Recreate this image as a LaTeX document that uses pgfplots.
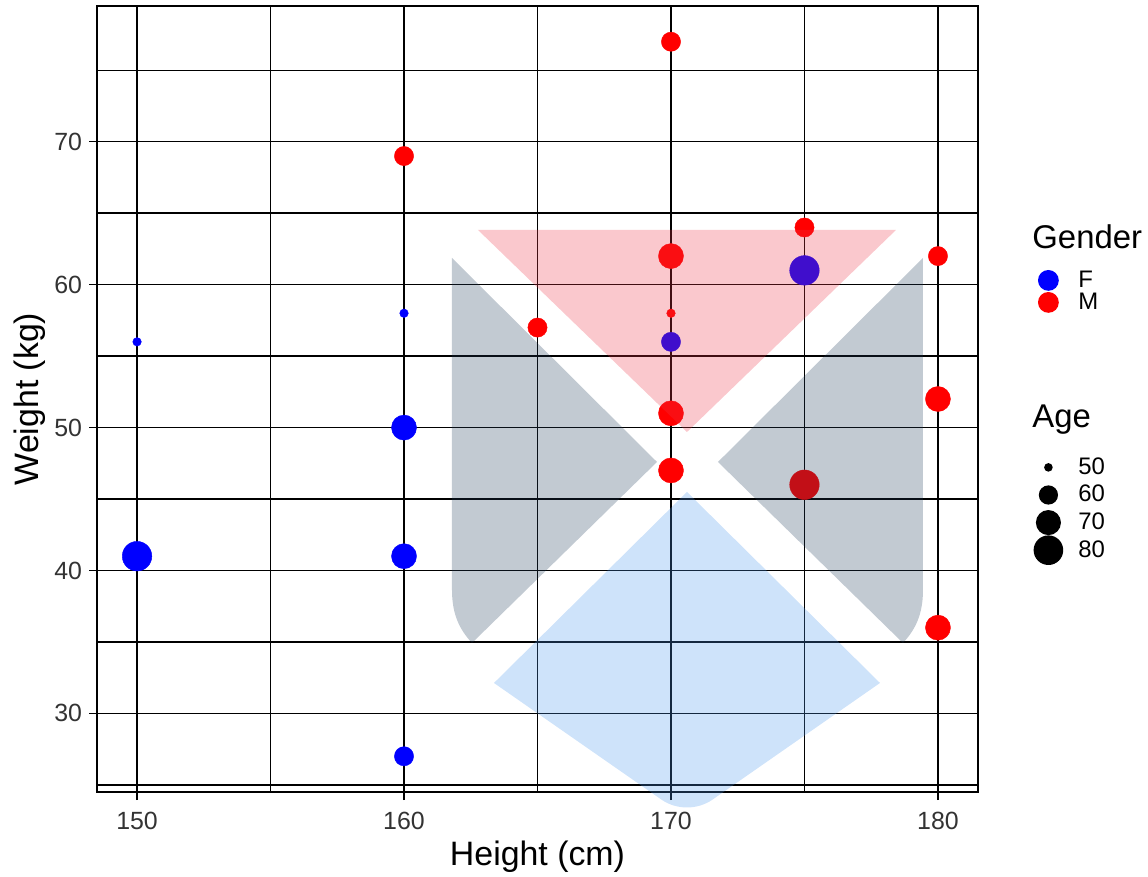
\documentclass[border=0pt]{standalone}
\usepackage{pgfplots}
\pgfplotsset{compat=1.18}
\usepackage{fontspec}
\setmainfont{Liberation Sans}
\pgfplotstableread{
x y age
150 56 50
150 41 80
160 58 50
160 50 70
160 41 70
160 27 60
170 56 60
175 61 80
}\dataF
\pgfplotstableread{
x y age
170 77 60
160 69 60
175 64 60
170 62 70
180 62 60
165 57 60
170 58 50
170 51 70
180 52 70
170 47 70
175 46 80
180 36 70
}\dataM
\definecolor{wmpink}{RGB}{237,52,70}
\definecolor{wmgrey}{RGB}{30,58,88}
\definecolor{wmblue}{RGB}{75,150,235}
\pgfplotsset{
  sizedots/.style={scatter, only marks, mark=*, forget plot,
    point meta=\thisrow{age},
    visualization depends on={1+6.6*sqrt((\thisrow{age}-49)/33) \as \rad},
    scatter/use mapped color={draw=#1, fill=#1},
    mark options={line width=0.2bp},
    scatter/@pre marker code/.append style={/tikz/mark size=\rad bp}},
  legdot/.style n args={3}{legend image code/.code={%
      \path[draw=none, fill=none] (0,-#3) rectangle (16bp,#3);
      \fill[#1, draw=none, overlay] (8bp,0) circle (#2);}},
}
\begin{document}
\begin{tikzpicture}
\useasboundingbox (0,0) rectangle (574bp,438.5bp);
\begin{axis}[
  at={(48.5bp,42.5bp)}, anchor=south west,
  scale only axis, width=440.5bp, height=393bp,
  xmin=148.5, xmax=181.5, ymin=24.5, ymax=79.5,
  xtick={150,160,170,180}, ytick={30,40,50,60,70},
  minor xtick={155,165,175}, minor ytick={25,35,45,55,65,75},
  grid=both,
  major grid style={black, line width=0.72bp},
  minor grid style={black, line width=0.72bp},
  axis line style={black, line width=0.72bp},
  tick align=outside, tick pos=left,
  major tick length=4bp, minor tick length=0pt,
  tick style={black, line width=0.72bp},
  /pgf/number format/assume math mode=true,
  ticklabel style={font=\fontsize{12.5}{14}\selectfont, text=black!80},
  xticklabel style={yshift=-2.5bp},
  xlabel={Height (cm)}, ylabel={Weight (kg)},
  label style={font=\fontsize{17}{20}\selectfont},
  xlabel style={at={(axis description cs:0.5,-0.0827)}, anchor=center},
  ylabel style={at={(axis description cs:-0.076,0.5)}, anchor=center, rotate=0},
  legend style={at={(axis description cs:1.06129,0.66539)}, anchor=north west,
    draw=none, fill=none, inner sep=0pt, row sep=0pt,
    nodes={inner sep=0pt, font=\fontsize{12}{14}\selectfont},
    /tikz/column 1/.style={column sep=7bp}},
  legend cell align=left,
]
\addplot[sizedots=blue] table[x=x,y=y] {\dataF};
\addplot[sizedots=red] table[x=x,y=y] {\dataM};
\addlegendimage{legdot={blue}{5.2bp}{5.5bp}}
\addlegendentry{F}
\addlegendimage{legdot={red}{5.2bp}{5.5bp}}
\addlegendentry{M}
\draw[black, line width=1.1bp] (rel axis cs:0,0) -- (rel axis cs:1,0) -- (rel axis cs:1,1);
\end{axis}
\begin{axis}[
  at={(48.5bp,42.5bp)}, anchor=south west,
  scale only axis, width=440.5bp, height=393bp,
  xmin=0, xmax=1, ymin=0, ymax=1, hide axis,
  legend style={at={(axis description cs:1.06129,0.43104)}, anchor=north west,
    draw=none, fill=none, inner sep=0pt, row sep=0pt,
    nodes={inner sep=0pt, font=\fontsize{12}{14}\selectfont},
    /tikz/column 1/.style={column sep=7bp}},
  legend cell align=left,
]
\addlegendimage{legdot={black}{2.15bp}{6.9bp}}
\addlegendentry{50}
\addlegendimage{legdot={black}{4.81bp}{6.9bp}}
\addlegendentry{60}
\addlegendimage{legdot={black}{6.27bp}{6.9bp}}
\addlegendentry{70}
\addlegendimage{legdot={black}{7.4bp}{6.9bp}}
\addlegendentry{80}
\end{axis}
\node[anchor=base west, inner sep=0pt, font=\fontsize{16.5}{19}\selectfont] at (516bp,314bp) {Gender};
\node[anchor=base west, inner sep=0pt, font=\fontsize{16.5}{19}\selectfont] at (516bp,224.5bp) {Age};
\begin{scope}[shift={(0,438.5bp)}, x=0.5bp, y=-0.5bp]
  \fill[wmpink, opacity=0.27] (478,230) -- (896,230) -- (687,432) -- cycle;
  \fill[wmgrey, opacity=0.27] (452,258) -- (657,462) -- (472,643)
     .. controls (460,630) and (452,615) .. (452,590) -- cycle;
  \fill[wmgrey, opacity=0.27] (923,258) -- (718,462) -- (903,643)
     .. controls (915,630) and (923,615) .. (923,590) -- cycle;
  \fill[wmblue, opacity=0.27] (687,492) -- (880,683) -- (712,800)
     .. controls (697,810) and (677,810) .. (662,800) -- (494,683) -- cycle;
\end{scope}
\end{tikzpicture}
\end{document}
